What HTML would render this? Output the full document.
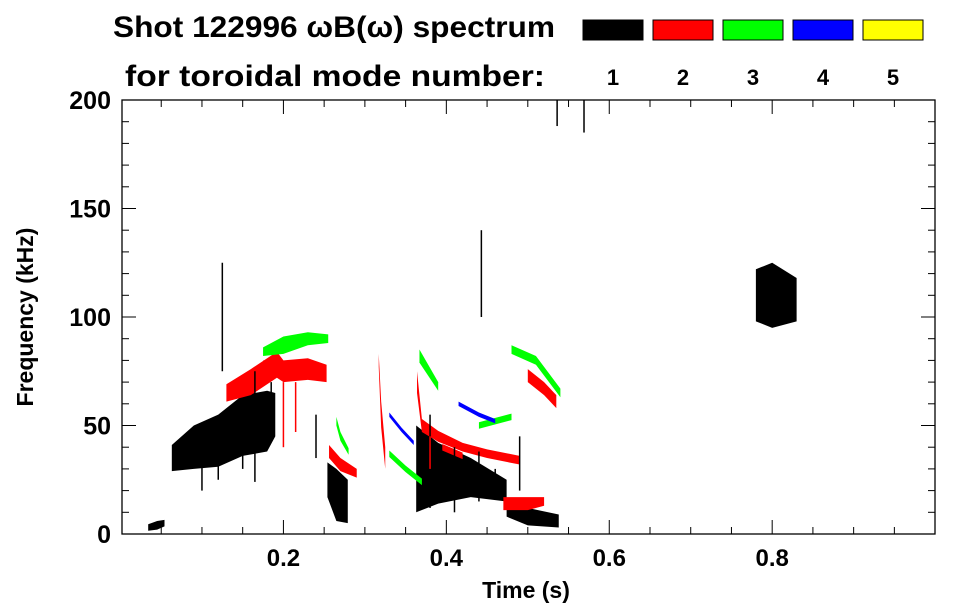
<!DOCTYPE html>
<html><head><meta charset="utf-8"><style>
body{margin:0;background:#fff;}
svg{display:block;font-family:"Liberation Sans",sans-serif;font-weight:bold;}
</style></head><body>
<svg id="chart" width="963" height="615" viewBox="0 0 963 615">
<text x="113" y="37" font-size="30" textLength="442" lengthAdjust="spacingAndGlyphs">Shot 122996 ωB(ω) spectrum</text>
<text x="125" y="86" font-size="30" textLength="420" lengthAdjust="spacingAndGlyphs">for toroidal mode number:</text>
<g id="legend"></g>
<g id="marks"></g>
<g id="axes"></g>
<text x="526" y="598" font-size="23" text-anchor="middle">Time (s)</text>
<text transform="translate(33,317) rotate(-90)" font-size="23" text-anchor="middle">Frequency (kHz)</text>
</svg>
<script>
const modes = ["1","2","3","4","5"];
const modeColors = ["#000000","#ff0000","#00ff00","#0000ff","#ffff00"];
const xTicks = [0.2,0.4,0.6,0.8];
const yTicks = [0,50,100,150,200];
// ridges: mode index, times, center freqs (kHz), half widths (kHz)
const ridgeMode = [0,0,0,0,0,0,1,1,1,1,1,1,1,2,2,2,2,2,2,3,3];
const ridgeTimes = [
 [0.063,0.09,0.12,0.15,0.18,0.19],
 [0.254,0.265,0.279],
 [0.363,0.39,0.43,0.474],
 [0.474,0.5,0.538],
 [0.034,0.045,0.054],
 [0.78,0.80,0.83],
 [0.13,0.16,0.192,0.2,0.23,0.253],
 [0.256,0.27,0.29],
 [0.317,0.32,0.325],
 [0.364,0.37,0.39,0.42,0.45,0.49],
 [0.47,0.5,0.52],
 [0.5,0.52,0.535],
 [0.395,0.42],
 [0.175,0.2,0.23,0.255],
 [0.265,0.27,0.28],
 [0.33,0.35,0.37],
 [0.367,0.39],
 [0.44,0.48],
 [0.48,0.51,0.54],
 [0.415,0.44,0.46],
 [0.33,0.345,0.36]
];
const ridgeFreqs = [
 [35,40,43,50,52,55],
 [25,18,15],
 [30,28,26,20],
 [12,8,6],
 [3,4,5],
 [110,110,108],
 [65,70,78,75,76,74],
 [38,32,28],
 [80,55,35],
 [70,50,45,40,37,34],
 [14,14,15],
 [73,67,61],
 [40,36],
 [84,87,90,90],
 [52,45,38],
 [37,30,24],
 [82,68],
 [50,54],
 [85,80,65],
 [60,55,52],
 [55,48,42]
];
const ridgeHalf = [
 [6,10,12,14,14,10],
 [8,12,10],
 [20,14,9,5],
 [4,4,3],
 [1.5,2,1.5],
 [12,15,10],
 [4,6,6,5,5,4],
 [3,3,2],
 [3,6,5],
 [5,3,2.5,2,2,2],
 [3,3,2],
 [3,3,3],
 [1.5,1.5],
 [2,4,3,2],
 [2,2,1.5],
 [1.5,1.5,1.5],
 [3,2],
 [1.5,1.5],
 [2,2,2],
 [1,1,1],
 [1,1,1]
];
// vertical streaks: mode, time, low freq, high freq
const streakMode = [0,0,0,0,0,0,0,0,0,0,0,1,1,1,1,0,0,0,0,0];
const streakT = [0.1,0.12,0.15,0.165,0.175,0.185,0.24,0.38,0.41,0.44,0.46,0.2,0.215,0.176,0.38,0.569,0.536,0.443,0.125,0.49];
const streakLo = [20,25,30,24,40,45,35,12,10,15,18,40,47,76,30,185,188,100,75,20];
const streakHi = [40,50,60,75,65,70,55,55,40,38,30,70,70,80,45,200,200,140,125,45];

const NS="http://www.w3.org/2000/svg";
const X = t => 120.5 + t*814.6;
const Y = f => 534 - f*2.17;
const marks=document.getElementById('marks'), axes=document.getElementById('axes'), legend=document.getElementById('legend');
function mk(tag,attrs,parent){const e=document.createElementNS(NS,tag);for(const k in attrs)e.setAttribute(k,attrs[k]);parent.appendChild(e);return e;}

modes.forEach((m,i)=>{
  const r=mk('rect',{x:583+i*70,y:20,width:60,height:20,fill:modeColors[i],stroke:'#000','stroke-width':1},legend);
  
  
  const t=mk('text',{x:613+i*70,y:85,'font-size':22,'text-anchor':'middle'},legend);
  t.textContent=m;
  
  
});

ridgeTimes.forEach((ts,k)=>{
  const up=ts.map((t,j)=>X(t)+','+Y(ridgeFreqs[k][j]+ridgeHalf[k][j]));
  const dn=ts.map((t,j)=>X(t)+','+Y(ridgeFreqs[k][j]-ridgeHalf[k][j])).reverse();
  const p=mk('polygon',{points:up.concat(dn).join(' '),fill:modeColors[ridgeMode[k]]},marks);
  
  
});
streakT.forEach((t,k)=>{
  const l=mk('line',{x1:X(t),x2:X(t),y1:Y(streakLo[k]),y2:Y(streakHi[k]),stroke:modeColors[streakMode[k]],'stroke-width':1.5},marks);
  
  
});

const L=122,R=935,T=100,B=534;
const frame=mk('rect',{x:L,y:T,width:R-L,height:B-T,fill:'none',stroke:'#000','stroke-width':1.3},axes);


for(let f=0;f<=200;f+=10){
  const len=(f%50===0)?14:7;
  mk('line',{x1:L,x2:L+len,y1:Y(f),y2:Y(f),stroke:'#000'},axes);
  mk('line',{x1:R,x2:R-len,y1:Y(f),y2:Y(f),stroke:'#000'},axes);
}
for(let t=0.05;t<1;t+=0.05){
  const major=Math.abs(Math.round(t*10)-t*10)<1e-6 && Math.round(t*10)%2===0;
  const len=major?14:7;
  mk('line',{x1:X(t),x2:X(t),y1:B,y2:B-len,stroke:'#000'},axes);
  mk('line',{x1:X(t),x2:X(t),y1:T,y2:T+len,stroke:'#000'},axes);
}
yTicks.forEach(v=>{
  const t=mk('text',{x:L-11,y:Y(v)+9,'font-size':25,'text-anchor':'end'},axes);
  t.textContent=v;
  
  
});
xTicks.forEach(v=>{
  const t=mk('text',{x:X(v),y:B+32,'font-size':24,'text-anchor':'middle'},axes);
  t.textContent=v;
  
  
});
</script>
</body></html>
